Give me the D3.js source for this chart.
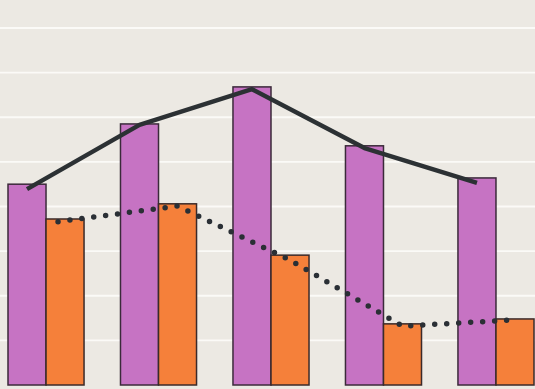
<!DOCTYPE html>
<html>
<head>
<meta charset="utf-8">
<script src="https://cdn.jsdelivr.net/npm/d3@7"></script>
<style>
  html, body { margin: 0; padding: 0; background: #ece9e3; }
  svg { display: block; }
</style>
</head>
<body>
<div id="chart"></div>
<script>
// data (units = gridline steps)
const categories = ["A", "B", "C", "D", "E"];
const purpleValues = [4.50, 5.85, 6.68, 5.36, 4.64];
const orangeValues = [3.72, 4.06, 2.91, 1.37, 1.48];
const solidLine = [4.39, 5.83, 6.63, 5.31, 4.53];
const dottedLine = [3.66, 4.01, 2.80, 1.32, 1.46];
const gridTicks = [1, 2, 3, 4, 5, 6, 7, 8];

const width = 535;
const height = 389;

const svg = d3.select("#chart").append("svg")
    .attr("width", width)
    .attr("height", height);

svg.append("rect")
    .attr("width", width)
    .attr("height", height)
    .attr("fill", "#ece9e3");

const x = d3.scaleBand()
    .domain(categories)
    .range([8, 534])
    .paddingInner(0.324)
    .paddingOuter(0);

const sub = d3.scaleBand()
    .domain(["purple", "orange"])
    .range([0, x.bandwidth()]);

const y = d3.scaleLinear()
    .domain([0, 8])
    .range([385, 28]);

// white gridlines
svg.append("g")
    .selectAll("line")
    .data(gridTicks)
    .join("line")
    .attr("x1", 0)
    .attr("x2", width)
    .attr("y1", d => y(d))
    .attr("y2", d => y(d))
    .attr("stroke", "#fbfaf7")
    .attr("stroke-width", 1.8);

const groups = svg.append("g")
    .selectAll("g")
    .data(categories)
    .join("g")
    .attr("transform", d => `translate(${x(d)},0)`);

groups.append("rect")
    .attr("x", sub("purple"))
    .attr("y", (d, i) => y(purpleValues[i]))
    .attr("width", sub.bandwidth())
    .attr("height", (d, i) => y(0) - y(purpleValues[i]))
    .attr("fill", "#c673c3")
    .attr("stroke", "#3b2a3a")
    .attr("stroke-width", 1.5);

groups.append("rect")
    .attr("x", sub("orange"))
    .attr("y", (d, i) => y(orangeValues[i]))
    .attr("width", sub.bandwidth())
    .attr("height", (d, i) => y(0) - y(orangeValues[i]))
    .attr("fill", "#f5803a")
    .attr("stroke", "#3b2a2a")
    .attr("stroke-width", 1.5);

// solid line over purple bars
const solidGen = d3.line()
    .x((d, i) => x(categories[i]) + sub("purple") + sub.bandwidth() / 2)
    .y(d => y(d));

svg.append("path")
    .datum(solidLine)
    .attr("d", solidGen)
    .attr("fill", "none")
    .attr("stroke", "#2c3134")
    .attr("stroke-width", 4.5)
    .attr("stroke-linejoin", "round");

// dotted line over orange bars
const dotGen = d3.line()
    .x((d, i) => x(categories[i]) + sub("orange") + sub.bandwidth() / 2 - (i === 0 ? 7 : 0))
    .y(d => y(d));

svg.append("path")
    .datum(dottedLine)
    .attr("d", dotGen)
    .attr("fill", "none")
    .attr("stroke", "#2a2f35")
    .attr("stroke-width", 5.5)
    .attr("stroke-linecap", "round")
    .attr("stroke-dasharray", "0 12");
</script>
</body>
</html>
